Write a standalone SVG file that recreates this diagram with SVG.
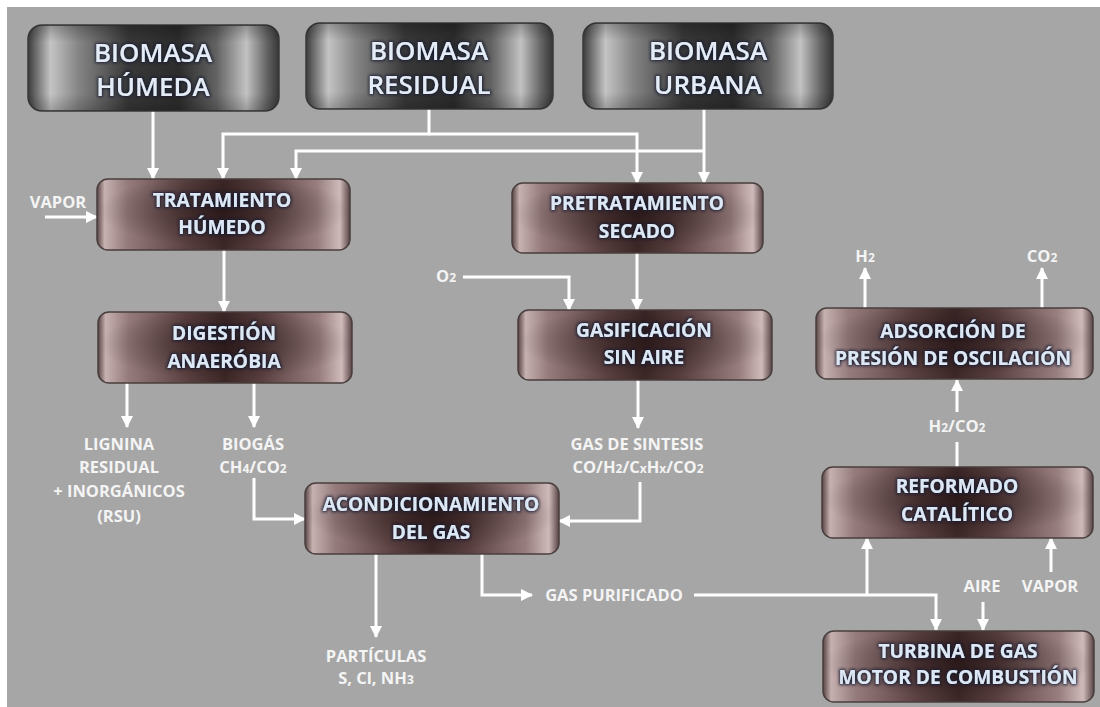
<svg xmlns="http://www.w3.org/2000/svg" width="1100" height="707" viewBox="0 0 1100 707">
  <defs>
    <style>
      .src text { font-family: "Open Sans", "Liberation Sans", sans-serif; font-weight: 600; font-size: 26px; fill: #e4ecf8; text-anchor: middle; }
      .proc text { font-family: "Open Sans", "Liberation Sans", sans-serif; font-weight: 700; font-size: 19.2px; fill: #dde8f6; text-anchor: middle; }
      .lbl { font-family: "Open Sans", "Liberation Sans", sans-serif; font-weight: 700; font-size: 16.5px; fill: #f4f4f4; text-anchor: middle; }
      .sub { font-size: 12px; }
      .flow path { fill: none; stroke: #ffffff; stroke-width: 3; }
      .flow .arr { marker-end: url(#head); }
    </style>
    <!-- metallic grey shading for the source boxes -->
    <linearGradient id="steel" x1="0" y1="0" x2="1" y2="0">
      <stop offset="0" stop-color="#3a3a3a"/>
      <stop offset="0.03" stop-color="#6a6a6a"/>
      <stop offset="0.09" stop-color="#c4c4c4"/>
      <stop offset="0.2" stop-color="#858585"/>
      <stop offset="0.4" stop-color="#383838"/>
      <stop offset="0.6" stop-color="#2c2c2c"/>
      <stop offset="0.75" stop-color="#626262"/>
      <stop offset="0.87" stop-color="#c2c2c2"/>
      <stop offset="0.95" stop-color="#666666"/>
      <stop offset="1" stop-color="#363636"/>
    </linearGradient>
    <!-- bronze shading for the process boxes -->
    <linearGradient id="bronze" x1="0" y1="0" x2="1" y2="0">
      <stop offset="0" stop-color="#584444"/>
      <stop offset="0.03" stop-color="#c6b0b0"/>
      <stop offset="0.12" stop-color="#957b7b"/>
      <stop offset="0.35" stop-color="#5a4040"/>
      <stop offset="0.5" stop-color="#3c2727"/>
      <stop offset="0.65" stop-color="#5a4040"/>
      <stop offset="0.87" stop-color="#987e7e"/>
      <stop offset="0.96" stop-color="#cfbaba"/>
      <stop offset="1" stop-color="#584444"/>
    </linearGradient>
    <radialGradient id="core" cx="0.5" cy="0.45" r="0.5">
      <stop offset="0" stop-color="#1e0f0f" stop-opacity="0.55"/>
      <stop offset="1" stop-color="#1e0f0f" stop-opacity="0"/>
    </radialGradient>
    <linearGradient id="vshade" x1="0" y1="0" x2="0" y2="1">
      <stop offset="0" stop-color="#000" stop-opacity="0.25"/>
      <stop offset="0.2" stop-color="#000" stop-opacity="0"/>
      <stop offset="0.8" stop-color="#000" stop-opacity="0"/>
      <stop offset="1" stop-color="#000" stop-opacity="0.2"/>
    </linearGradient>
    <filter id="glow" x="-10%" y="-40%" width="120%" height="180%">
      <feMorphology in="SourceAlpha" operator="dilate" radius="1" result="d"/>
      <feGaussianBlur in="d" stdDeviation="1.6" result="b"/>
      <feFlood flood-color="#141a30" flood-opacity="0.9"/>
      <feComposite in2="b" operator="in" result="s"/>
      <feMerge><feMergeNode in="s"/><feMergeNode in="SourceGraphic"/></feMerge>
    </filter>
    <marker id="head" markerUnits="userSpaceOnUse" markerWidth="12" markerHeight="12" viewBox="0 0 12 12" refX="11" refY="6" orient="auto">
      <path d="M0,0 L12,6 L0,12 z" fill="#ffffff"/>
    </marker>
  </defs>

  <!-- canvas -->
  <rect x="0" y="0" width="1100" height="707" fill="#ffffff"/>
  <rect x="7" y="7" width="1093" height="700" fill="#a6a6a6"/>

  <!-- connectors -->
  <g id="connectors" class="flow">
    <path class="arr" d="M153,111 V179"/>
    <path class="arr" d="M429,109 V134 H223 V179"/>
    <path class="arr" d="M429,134 H637 V183"/>
    <path class="arr" d="M704,109 V183"/>
    <path class="arr" d="M704,151 H296 V179"/>
    <path class="arr" d="M45,217 H97"/>
    <path class="arr" d="M224,250 V312"/>
    <path class="arr" d="M127,383 V427"/>
    <path class="arr" d="M254,383 V427"/>
    <path class="arr" d="M254,478 V519 H305"/>
    <path class="arr" d="M637,253 V310"/>
    <path class="arr" d="M463,277 H569 V310"/>
    <path class="arr" d="M638,380 V428"/>
    <path class="arr" d="M640,482 V521 H559"/>
    <path class="arr" d="M376,554 V637"/>
    <path class="arr" d="M482,554 V595 H532"/>
    <path class="arr" d="M694,595 H936 V630"/>
    <path class="arr" d="M867,595 V538"/>
    <path class="arr" d="M983,602 V630"/>
    <path class="arr" d="M1051,572 V538"/>
    <path d="M957,467 V442"/>
    <path class="arr" d="M957,412 V380"/>
    <path class="arr" d="M865,308 V268"/>
    <path class="arr" d="M1042,308 V268"/>
  </g>

  <!-- feedstock sources -->
  <g id="biomasa-humeda" class="src">
    <rect x="28" y="25" width="251" height="86" rx="14" fill="url(#steel)" stroke="#3a3a3a" stroke-width="1.5"/>
    <rect x="28" y="25" width="251" height="86" rx="14" fill="url(#vshade)"/>
    <text filter="url(#glow)"><tspan x="153" y="62">BIOMASA</tspan><tspan x="153" y="96">HÚMEDA</tspan></text>
  </g>
  <g id="biomasa-residual" class="src">
    <rect x="306" y="23" width="247" height="86" rx="14" fill="url(#steel)" stroke="#3a3a3a" stroke-width="1.5"/>
    <rect x="306" y="23" width="247" height="86" rx="14" fill="url(#vshade)"/>
    <text filter="url(#glow)"><tspan x="429" y="60">BIOMASA</tspan><tspan x="429" y="94">RESIDUAL</tspan></text>
  </g>
  <g id="biomasa-urbana" class="src">
    <rect x="583" y="23" width="250" height="86" rx="14" fill="url(#steel)" stroke="#3a3a3a" stroke-width="1.5"/>
    <rect x="583" y="23" width="250" height="86" rx="14" fill="url(#vshade)"/>
    <text filter="url(#glow)"><tspan x="708" y="60">BIOMASA</tspan><tspan x="708" y="94">URBANA</tspan></text>
  </g>

  <!-- process units -->
  <g id="tratamiento-humedo" class="proc">
    <rect x="97" y="179" width="253" height="71" rx="11" fill="url(#bronze)" stroke="#4a3e3e" stroke-width="1.5"/>
    <rect x="97" y="179" width="253" height="71" rx="11" fill="url(#core)"/>
    <text filter="url(#glow)"><tspan x="222" y="207">TRATAMIENTO</tspan><tspan x="222" y="234">HÚMEDO</tspan></text>
  </g>
  <g id="pretratamiento-secado" class="proc">
    <rect x="512" y="183" width="251" height="70" rx="11" fill="url(#bronze)" stroke="#4a3e3e" stroke-width="1.5"/>
    <rect x="512" y="183" width="251" height="70" rx="11" fill="url(#core)"/>
    <text filter="url(#glow)"><tspan x="637" y="210">PRETRATAMIENTO</tspan><tspan x="637" y="238">SECADO</tspan></text>
  </g>
  <g id="digestion-anaerobia" class="proc">
    <rect x="98" y="312" width="254" height="71" rx="11" fill="url(#bronze)" stroke="#4a3e3e" stroke-width="1.5"/>
    <rect x="98" y="312" width="254" height="71" rx="11" fill="url(#core)"/>
    <text filter="url(#glow)"><tspan x="224" y="340">DIGESTIÓN</tspan><tspan x="224" y="368">ANAERÓBIA</tspan></text>
  </g>
  <g id="gasificacion" class="proc">
    <rect x="518" y="310" width="254" height="70" rx="11" fill="url(#bronze)" stroke="#4a3e3e" stroke-width="1.5"/>
    <rect x="518" y="310" width="254" height="70" rx="11" fill="url(#core)"/>
    <text filter="url(#glow)"><tspan x="644" y="337">GASIFICACIÓN</tspan><tspan x="644" y="364">SIN AIRE</tspan></text>
  </g>
  <g id="adsorcion" class="proc">
    <rect x="816" y="308" width="277" height="71" rx="11" fill="url(#bronze)" stroke="#4a3e3e" stroke-width="1.5"/>
    <rect x="816" y="308" width="277" height="71" rx="11" fill="url(#core)"/>
    <text filter="url(#glow)"><tspan x="953" y="338">ADSORCIÓN DE</tspan><tspan x="953" y="365">PRESIÓN DE OSCILACIÓN</tspan></text>
  </g>
  <g id="acondicionamiento" class="proc">
    <rect x="305" y="483" width="254" height="71" rx="11" fill="url(#bronze)" stroke="#4a3e3e" stroke-width="1.5"/>
    <rect x="305" y="483" width="254" height="71" rx="11" fill="url(#core)"/>
    <text filter="url(#glow)"><tspan x="431" y="511">ACONDICIONAMIENTO</tspan><tspan x="431" y="539">DEL GAS</tspan></text>
  </g>
  <g id="reformado" class="proc">
    <rect x="822" y="467" width="271" height="71" rx="11" fill="url(#bronze)" stroke="#4a3e3e" stroke-width="1.5"/>
    <rect x="822" y="467" width="271" height="71" rx="11" fill="url(#core)"/>
    <text filter="url(#glow)"><tspan x="957" y="493">REFORMADO</tspan><tspan x="957" y="521">CATALÍTICO</tspan></text>
  </g>
  <g id="turbina" class="proc">
    <rect x="823" y="631" width="271" height="71" rx="11" fill="url(#bronze)" stroke="#4a3e3e" stroke-width="1.5"/>
    <rect x="823" y="631" width="271" height="71" rx="11" fill="url(#core)"/>
    <text filter="url(#glow)"><tspan x="958" y="658">TURBINA DE GAS</tspan><tspan x="958" y="684">MOTOR DE COMBUSTIÓN</tspan></text>
  </g>

  <!-- stream labels -->
  <g id="labels">
    <text class="lbl" x="58" y="208">VAPOR</text>
    <text class="lbl" x="446" y="282">O<tspan class="sub">2</tspan></text>
    <text class="lbl" x="865" y="262">H<tspan class="sub">2</tspan></text>
    <text class="lbl" x="1042" y="262">CO<tspan class="sub">2</tspan></text>
    <text class="lbl"><tspan x="119" y="450">LIGNINA</tspan><tspan x="119" y="473">RESIDUAL</tspan><tspan x="119" y="497">+ INORGÁNICOS</tspan><tspan x="119" y="522">(RSU)</tspan></text>
    <text class="lbl"><tspan x="253" y="450">BIOGÁS</tspan><tspan x="253" y="473">CH<tspan class="sub">4</tspan>/CO<tspan class="sub">2</tspan></tspan></text>
    <text class="lbl"><tspan x="637" y="450">GAS DE SINTESIS</tspan><tspan x="638" y="473">CO/H<tspan class="sub">2</tspan>/C<tspan class="sub">x</tspan>H<tspan class="sub">x</tspan>/CO<tspan class="sub">2</tspan></tspan></text>
    <text class="lbl"><tspan x="376" y="662">PARTÍCULAS</tspan><tspan x="376" y="684">S, Cl, NH<tspan class="sub">3</tspan></tspan></text>
    <text class="lbl" x="614" y="601">GAS PURIFICADO</text>
    <text class="lbl" x="982" y="592">AIRE</text>
    <text class="lbl" x="1050" y="592">VAPOR</text>
    <text class="lbl" x="957" y="432">H<tspan class="sub">2</tspan>/CO<tspan class="sub">2</tspan></text>
  </g>
</svg>
